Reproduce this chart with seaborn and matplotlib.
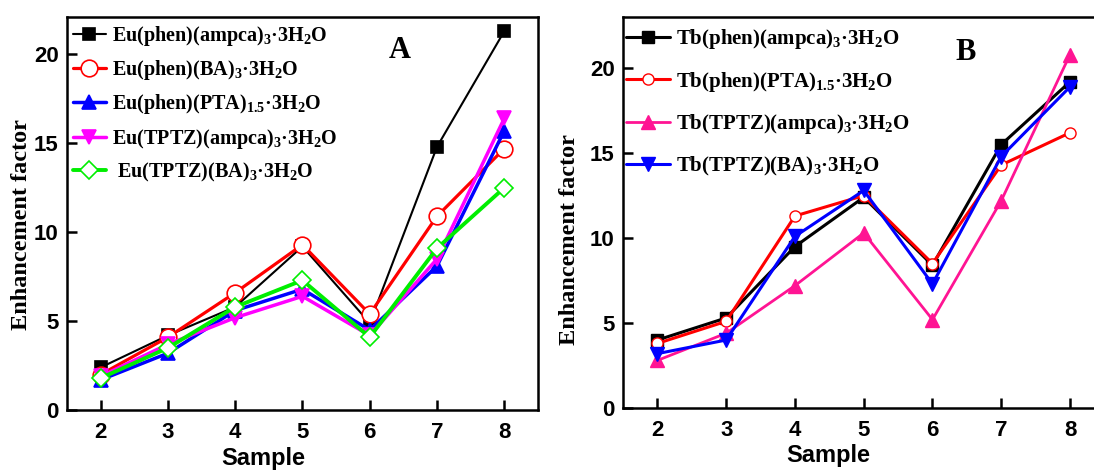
import matplotlib
matplotlib.use('Agg')
import matplotlib.pyplot as plt
import seaborn as sns

sns.set_style('ticks')
plt.rcParams['font.family'] = ['Liberation Sans', 'DejaVu Sans']
plt.rcParams['font.weight'] = 'bold'
plt.rcParams['mathtext.default'] = 'regular'
for key in ['text.color', 'axes.labelcolor', 'xtick.color', 'ytick.color', 'axes.edgecolor']:
    plt.rcParams[key] = 'black'

samples = [2, 3, 4, 5, 6, 7, 8]

# panel A (Eu complexes)
eu_labels = ['Eu(phen)(ampca)$_3$\u00b73H$_2$O',
             'Eu(phen)(BA)$_3$\u00b73H$_2$O',
             'Eu(phen)(PTA)$_{1.5}$\u00b73H$_2$O',
             'Eu(TPTZ)(ampca)$_3$\u00b73H$_2$O',
             ' Eu(TPTZ)(BA)$_3$\u00b73H$_2$O']
eu_phen_ampca = [2.4, 4.2, 5.8, 9.2, 4.9, 14.8, 21.3]
eu_phen_ba = [2.0, 4.1, 6.6, 9.3, 5.4, 10.9, 14.7]
eu_phen_pta = [1.7, 3.2, 5.6, 6.8, 4.5, 8.1, 15.7]
eu_tptz_ampca = [1.9, 3.7, 5.2, 6.4, 4.2, 8.5, 16.4]
eu_tptz_ba = [1.8, 3.5, 5.8, 7.3, 4.1, 9.1, 12.5]

# panel B (Tb complexes)
tb_labels = ['Tb(phen)(ampca)$_3$\u00b73H$_2$O',
             'Tb(phen)(PTA)$_{1.5}$\u00b73H$_2$O',
             'Tb(TPTZ)(ampca)$_3$\u00b73H$_2$O',
             'Tb(TPTZ)(BA)$_3$\u00b73H$_2$O']
tb_phen_ampca = [4.0, 5.3, 9.5, 12.4, 8.4, 15.5, 19.2]
tb_phen_pta = [3.8, 5.1, 11.3, 12.5, 8.5, 14.3, 16.2]
tb_tptz_ampca = [2.8, 4.4, 7.2, 10.3, 5.2, 12.2, 20.8]
tb_tptz_ba = [3.2, 4.0, 10.1, 12.8, 7.3, 14.8, 18.9]

fig = plt.figure(figsize=(10.94, 4.72), dpi=100)
axA = fig.add_axes([0.0612, 0.131, 0.4305, 0.833])
axB = fig.add_axes([0.5695, 0.1356, 0.44, 0.828])

eu_styles = [
    dict(color='black', marker='s', lw=1.5, ms=8, mfc='black'),
    dict(color='#ff0000', marker='o', lw=2.3, ms=12, mfc='white'),
    dict(color='#0000ff', marker='^', lw=2.5, ms=10, mfc='#0000ff'),
    dict(color='#ff00ff', marker='v', lw=2.5, ms=10, mfc='#ff00ff'),
    dict(color='#00ee00', marker='D', lw=2.8, ms=9, mfc='white'),
]
for ys, lab, st in zip([eu_phen_ampca, eu_phen_ba, eu_phen_pta, eu_tptz_ampca, eu_tptz_ba],
                       eu_labels, eu_styles):
    sns.lineplot(x=samples, y=ys, ax=axA, label=lab, color=st['color'],
                 marker=st['marker'], lw=st['lw'], ms=st['ms'], mfc=st['mfc'],
                 mec=st['color'], mew=1.2)

tb_styles = [
    dict(color='black', marker='s', lw=2.2, ms=9, mfc='black'),
    dict(color='#ff0000', marker='o', lw=2.2, ms=8, mfc='white'),
    dict(color='#ff1493', marker='^', lw=2.0, ms=10, mfc='#ff1493'),
    dict(color='#0000ff', marker='v', lw=2.2, ms=10, mfc='#0000ff'),
]
for ys, lab, st in zip([tb_phen_ampca, tb_phen_pta, tb_tptz_ampca, tb_tptz_ba],
                       tb_labels, tb_styles):
    sns.lineplot(x=samples, y=ys, ax=axB, label=lab, color=st['color'],
                 marker=st['marker'], lw=st['lw'], ms=st['ms'], mfc=st['mfc'],
                 mec=st['color'], mew=1.0)

serif = dict(family='Liberation Serif', weight='bold')
panels = [(axA, 22.1, 'A', (0.707, 0.916), 0.416, (-0.074, 0.473)),
          (axB, 23.0, 'B', (0.711, 0.91), 0.426, (-0.09, 0.43))]
for ax, top, letter, pos, xlab, ylab in panels:
    ax.set_xlim(1.5, 8.5)
    ax.set_ylim(0, top)
    ax.set_xticks(samples)
    ax.set_yticks([0, 5, 10, 15, 20])
    ax.tick_params(direction='in', length=7, width=1.8, labelsize=16)
    ax.tick_params(axis='x', pad=8.5)
    ax.tick_params(axis='y', pad=6)
    for sp in ax.spines.values():
        sp.set_linewidth(1.8)
        sp.set_visible(True)
    ax.set_xlabel('Sample', fontsize=17, fontweight='bold')
    ax.xaxis.set_label_coords(xlab, -0.093)
    ax.set_ylabel('Enhancement factor', fontsize=17.5, **serif)
    ax.yaxis.set_label_coords(*ylab)
    ax.text(pos[0], pos[1], letter, transform=ax.transAxes, ha='center', va='center',
            fontsize=22, **serif)
    plt.setp(ax.get_xticklabels() + ax.get_yticklabels(), fontweight='bold')

axA.legend(loc='upper left', bbox_to_anchor=(-0.012, 1.012), frameon=False,
           prop=dict(size=14.5, **serif), labelspacing=0.5, handlelength=1.6,
           handletextpad=0.3, borderaxespad=0.2)
axB.legend(loc='upper left', bbox_to_anchor=(-0.02, 1.007), frameon=False,
           prop=dict(size=15, **serif), labelspacing=0.9, handlelength=2.1,
           handletextpad=0.3, borderaxespad=0.2)

fig.savefig('out.png', dpi=100)
